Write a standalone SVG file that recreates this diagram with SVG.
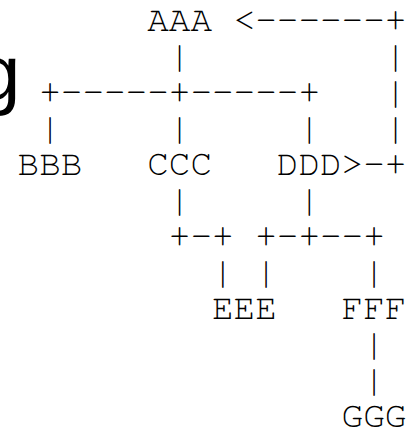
<svg xmlns="http://www.w3.org/2000/svg" width="408" height="428" viewBox="0 0 408 428">
<style>
.t{font-family:FreeMono,"Liberation Mono","Courier New",monospace;font-size:36px;fill:#000}
.g{font-family:"Liberation Sans",Arial,sans-serif;font-size:78px;fill:#000}
</style>
<rect width="408" height="428" fill="#fff"/>
<text class="g" x="-23" y="100">g</text>
<g id="connectors">
<text class="t" x="233.6" y="31">&lt;------+</text>
<text class="t" x="168.8" y="67">|</text>
<text class="t" x="384.8" y="67">|</text>
<text class="t" x="39.2" y="103">+-----+-----+</text>
<text class="t" x="384.8" y="103">|</text>
<text class="t" x="39.2" y="139">|</text>
<text class="t" x="168.8" y="139">|</text>
<text class="t" x="298.4" y="139">|</text>
<text class="t" x="384.8" y="139">|</text>
<text class="t" x="341.6" y="175">&gt;-+</text>
<text class="t" x="168.8" y="211">|</text>
<text class="t" x="298.4" y="211">|</text>
<text class="t" x="168.8" y="247">+-+</text>
<text class="t" x="255.2" y="247">+-+--+</text>
<text class="t" x="212" y="283">|</text>
<text class="t" x="255.2" y="283">|</text>
<text class="t" x="363.2" y="283">|</text>
<text class="t" x="363.2" y="355">|</text>
<text class="t" x="363.2" y="391">|</text>
</g>
<g id="AAA"><text class="t" x="147.2" y="31">AAA</text></g>
<g id="BBB"><text class="t" x="17.6" y="175">BBB</text></g>
<g id="CCC"><text class="t" x="147.2" y="175">CCC</text></g>
<g id="DDD"><text class="t" x="276.8" y="175">DDD</text></g>
<g id="EEE"><text class="t" x="212" y="319">EEE</text></g>
<g id="FFF"><text class="t" x="341.6" y="319">FFF</text></g>
<g id="GGG"><text class="t" x="341.6" y="427">GGG</text></g>
</svg>
